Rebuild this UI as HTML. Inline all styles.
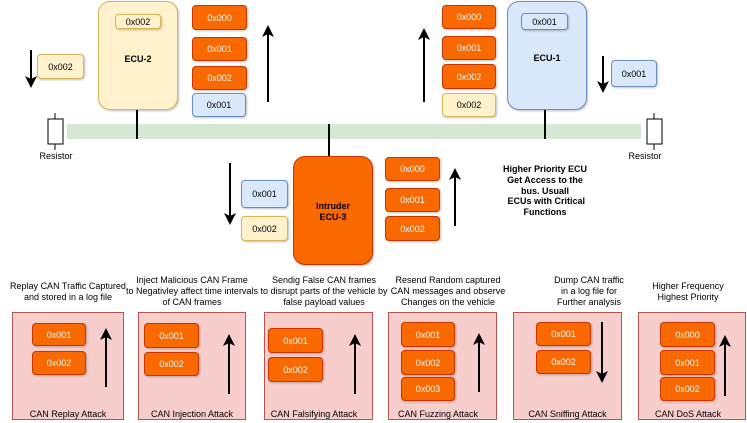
<!DOCTYPE html>
<html><head><meta charset="utf-8"><style>
body{margin:0;width:747px;height:423px;position:relative;background:#fff;font-family:"Liberation Sans",sans-serif;overflow:hidden}
.b{position:absolute;box-sizing:border-box;border-radius:4px;display:flex;align-items:center;justify-content:center;font-size:9px;box-shadow:1px 1px 2px rgba(0,0,0,.25)}
.o{background:#fa6800;border:1px solid #c73500;color:#fff}
.y{background:#fff2cc;border:1px solid #d6b656;color:#000}
.u{background:#dae8fc;border:1px solid #6c8ebf;color:#000}
.p{position:absolute;box-sizing:border-box;background:#f8cecc;border:1px solid #b85450}
.t{position:absolute;font-size:9px;text-align:center;line-height:11px;color:#000}
.ecu{position:absolute;box-sizing:border-box;border-radius:12px;font-weight:bold;font-size:9px;text-align:center}
</style></head><body>
<div style="position:absolute;left:67px;top:124px;width:574px;height:15px;background:#d5e8d4"></div>
<div class="ecu y" style="left:98px;top:1px;width:80px;height:109px;box-shadow:1px 1px 2px rgba(0,0,0,.25)"><div style="position:absolute;top:52px;width:100%">ECU-2</div></div>
<div class="b y" style="left:115px;top:14px;width:46px;height:15px">0x002</div>
<div class="ecu u" style="left:507px;top:1px;width:80px;height:109px;box-shadow:1px 1px 2px rgba(0,0,0,.25)"><div style="position:absolute;top:51px;width:100%">ECU-1</div></div>
<div class="b u" style="left:521px;top:13px;width:47px;height:17px">0x001</div>
<div class="ecu o" style="left:293px;top:156px;width:80px;height:109px;color:#000;box-shadow:1px 1px 2px rgba(0,0,0,.25)"><div style="position:absolute;top:44px;width:100%;line-height:11px">Intruder<br>ECU-3</div></div>

<div class="b y" style="left:37px;top:54px;width:47px;height:25px">0x002</div>
<div class="b o" style="left:192px;top:5px;width:55px;height:25px">0x000</div>
<div class="b o" style="left:192px;top:37px;width:55px;height:24px">0x001</div>
<div class="b o" style="left:192px;top:66px;width:55px;height:24px">0x002</div>
<div class="b u" style="left:192px;top:93px;width:54px;height:24px">0x001</div>
<div class="b o" style="left:442px;top:5px;width:54px;height:24px">0x000</div>
<div class="b o" style="left:442px;top:36px;width:54px;height:24px">0x001</div>
<div class="b o" style="left:442px;top:64px;width:54px;height:25px">0x002</div>
<div class="b y" style="left:442px;top:93px;width:54px;height:24px">0x002</div>
<div class="b u" style="left:611px;top:60px;width:46px;height:27px">0x001</div>
<div class="b u" style="left:241px;top:180px;width:47px;height:28px">0x001</div>
<div class="b y" style="left:241px;top:216px;width:47px;height:25px">0x002</div>
<div class="b o" style="left:385px;top:157px;width:55px;height:24px">0x000</div>
<div class="b o" style="left:385px;top:188px;width:55px;height:24px">0x001</div>
<div class="b o" style="left:385px;top:216px;width:55px;height:25px">0x002</div>
<div class="t" style="left:480px;top:164px;width:130px;font-weight:bold;line-height:10.8px">Higher Priority ECU<br>Get Access to the<br>bus. Usuall<br>&nbsp;ECUs with Critical<br>Functions</div>
<div class="t" style="left:36px;top:151px;width:40px">Resistor</div>
<div class="t" style="left:625px;top:151px;width:40px">Resistor</div>

<div class="p" style="left:12px;top:312px;width:112px;height:108px"></div>
<div class="p" style="left:138px;top:312px;width:108px;height:108px"></div>
<div class="p" style="left:264px;top:312px;width:109px;height:108px"></div>
<div class="p" style="left:388px;top:312px;width:109px;height:108px"></div>
<div class="p" style="left:513px;top:312px;width:109px;height:108px"></div>
<div class="p" style="left:638px;top:312px;width:108px;height:108px"></div>

<div class="b o" style="left:32px;top:323px;width:54px;height:23px">0x001</div>
<div class="b o" style="left:32px;top:351px;width:54px;height:24px">0x002</div>
<div class="b o" style="left:144px;top:323px;width:55px;height:25px">0x001</div>
<div class="b o" style="left:144px;top:352px;width:55px;height:24px">0x002</div>
<div class="b o" style="left:268px;top:328px;width:55px;height:25px">0x001</div>
<div class="b o" style="left:268px;top:357px;width:55px;height:25px">0x002</div>
<div class="b o" style="left:401px;top:322px;width:54px;height:25px">0x001</div>
<div class="b o" style="left:401px;top:350px;width:54px;height:25px">0x002</div>
<div class="b o" style="left:401px;top:377px;width:54px;height:24px">0x003</div>
<div class="b o" style="left:536px;top:322px;width:55px;height:24px">0x001</div>
<div class="b o" style="left:536px;top:350px;width:55px;height:24px">0x002</div>
<div class="b o" style="left:660px;top:322px;width:55px;height:25px">0x000</div>
<div class="b o" style="left:660px;top:350px;width:55px;height:25px">0x001</div>
<div class="b o" style="left:660px;top:377px;width:55px;height:24px">0x002</div>

<div class="t" style="left:12px;top:409px;width:112px">CAN Replay Attack</div>
<div class="t" style="left:138px;top:409px;width:108px">CAN Injection Attack</div>
<div class="t" style="left:264px;top:409px;width:100px">CAN Falsifying Attack</div>
<div class="t" style="left:388px;top:409px;width:100px">CAN Fuzzing Attack</div>
<div class="t" style="left:513px;top:409px;width:109px">CAN Sniffing Attack</div>
<div class="t" style="left:638px;top:409px;width:100px">CAN DoS Attack</div>

<div class="t" style="left:-2px;top:281px;width:140px">Replay CAN Traffic Captured<br>and stored in a log file</div>
<div class="t" style="left:122px;top:275px;width:140px">Inject Malicious CAN Frame<br>to Negativley affect time intervals<br>of CAN frames</div>
<div class="t" style="left:254px;top:275px;width:140px">Sendig False CAN frames<br>to disrupt parts of the vehicle by<br>false payload values</div>
<div class="t" style="left:378px;top:275px;width:140px">Resend Random captured<br>CAN messages and observe<br>Changes on the vehicle</div>
<div class="t" style="left:519px;top:275px;width:140px">Dump CAN traffic<br>in a log file for<br>Further analysis</div>
<div class="t" style="left:628px;top:281px;width:120px">Higher Frequency<br>Highest Priority</div>

<svg width="747" height="423" style="position:absolute;left:0;top:0">
<defs><marker id="a" markerWidth="6" markerHeight="6" refX="3" refY="3" orient="auto" markerUnits="strokeWidth"><path d="M0,0 L6,3 L0,6 L1.5,3 Z" fill="#000"/></marker></defs>
<g stroke="#000" stroke-width="2" fill="none">
<line x1="137" y1="110" x2="137" y2="139"/>
<line x1="545" y1="110" x2="545" y2="139"/>
<line x1="329" y1="124" x2="329" y2="156"/>
</g>
<g stroke="#000" stroke-width="1" fill="#fff">
<line x1="55" y1="113" x2="55" y2="150"/><rect x="48" y="119" width="15" height="25"/>
<line x1="654" y1="113" x2="654" y2="150"/><rect x="647" y="119" width="15" height="25"/>
</g>
<g stroke="#000" stroke-width="2" marker-end="url(#a)">
<line x1="31" y1="50" x2="31" y2="82"/>
<line x1="268" y1="102" x2="268" y2="31"/>
<line x1="424" y1="102" x2="424" y2="34"/>
<line x1="603" y1="56" x2="603" y2="87"/>
<line x1="230" y1="163" x2="230" y2="219"/>
<line x1="455" y1="226" x2="455" y2="174"/>
<line x1="106" y1="387" x2="106" y2="334"/>
<line x1="229" y1="394" x2="229" y2="340"/>
<line x1="355" y1="394" x2="355" y2="340"/>
<line x1="479" y1="392" x2="479" y2="339"/>
<line x1="602" y1="322" x2="602" y2="377"/>
<line x1="725" y1="396" x2="725" y2="341"/>
</g>
</svg>
</body></html>
